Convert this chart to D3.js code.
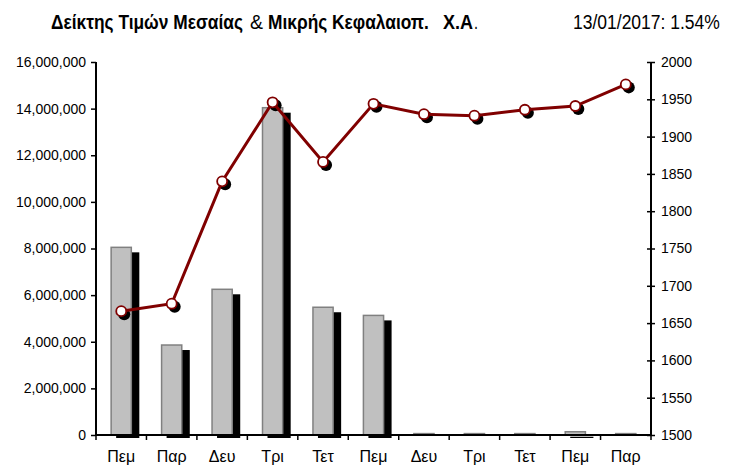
<!DOCTYPE html>
<html>
<head>
<meta charset="utf-8">
<script src="https://cdn.jsdelivr.net/npm/d3@7"></script>
<style>
  body { margin: 0; background: #fff; }
  text { font-family: Arial, "Liberation Sans", sans-serif; }
</style>
</head>
<body>
<svg id="chart" width="738" height="467"></svg>
<script>
const days = ['Πεμ', 'Παρ', 'Δευ', 'Τρι', 'Τετ', 'Πεμ', 'Δευ', 'Τρι', 'Τετ', 'Πεμ', 'Παρ'];
const volume = [8050000, 3860000, 6250000, 14040000, 5480000, 5130000, 60000, 60000, 60000, 140000, 60000];
const index = [1666, 1676, 1840, 1946, 1866, 1944, 1930, 1928, 1936, 1941, 1970];
const volTicks = [0, 2000000, 4000000, 6000000, 8000000, 10000000, 12000000, 14000000, 16000000];
const idxTicks = [1500, 1550, 1600, 1650, 1700, 1750, 1800, 1850, 1900, 1950, 2000];

const margin = { left: 96, right: 87, top: 62, bottom: 32 };
const width = 738, height = 467;

const svg = d3.select('#chart');

const x = d3.scaleBand()
	.domain(d3.range(days.length))
	.range([margin.left, width - margin.right]);

const yVol = d3.scaleLinear().domain([0, 16000000]).range([height - margin.bottom, margin.top]);
const yIdx = d3.scaleLinear().domain([1500, 2000]).range([height - margin.bottom, margin.top]);

const barW = x.bandwidth() * 0.4;
const barH = d => yVol(0) - yVol(d);

// bar shadows (offset down-right, like the excel shadow)
svg.append('g')
	.selectAll('rect')
	.data(volume)
	.join('rect')
	.attr('x', (d, i) => x(i) + (x.bandwidth() - barW) / 2 + 5)
	.attr('y', d => yVol(d) + 5)
	.attr('width', barW + 3)
	.attr('height', d => Math.max(0, barH(d) - 2))
	.attr('fill', '#000');

// bars
svg.append('g')
	.selectAll('rect')
	.data(volume)
	.join('rect')
	.attr('x', (d, i) => x(i) + (x.bandwidth() - barW) / 2)
	.attr('y', d => yVol(d))
	.attr('width', barW)
	.attr('height', barH)
	.attr('fill', '#c0c0c0')
	.attr('stroke', '#808080')
	.attr('stroke-width', 1.5);

// left axis
const leftAxis = svg.append('g')
	.attr('transform', `translate(${margin.left},0)`)
	.call(d3.axisLeft(yVol).tickValues(volTicks).tickSize(5).tickPadding(5).tickFormat(d3.format(',')));

// right axis
const rightAxis = svg.append('g')
	.attr('transform', `translate(${width - margin.right},0)`)
	.call(d3.axisRight(yIdx).tickValues(idxTicks).tickSize(4).tickPadding(6).tickFormat(d3.format('d')));
rightAxis.selectAll('.tick line').attr('x1', -4);

// bottom axis
const bottom = svg.append('g')
	.attr('transform', `translate(0,${height - margin.bottom})`);
bottom.append('line')
	.attr('x1', margin.left).attr('x2', width - margin.right)
	.attr('stroke', '#000').attr('stroke-width', 2);
bottom.selectAll('line.tk')
	.data(d3.range(days.length + 1))
	.join('line')
	.attr('class', 'tk')
	.attr('x1', i => i < days.length ? x(i) : x(days.length - 1) + x.bandwidth())
	.attr('x2', i => i < days.length ? x(i) : x(days.length - 1) + x.bandwidth())
	.attr('y1', 0).attr('y2', 5)
	.attr('stroke', '#000').attr('stroke-width', 1.5);
bottom.selectAll('text')
	.data(days)
	.join('text')
	.attr('x', (d, i) => x(i) + x.bandwidth() / 2)
	.attr('y', 27)
	.attr('text-anchor', 'middle')
	.attr('font-size', 16)
	.attr('fill', '#000')
	.text(d => d);

[leftAxis, rightAxis].forEach(a => {
	a.select('.domain').attr('stroke', '#000').attr('stroke-width', 2);
	a.selectAll('.tick line').attr('stroke', '#000').attr('stroke-width', 1.5);
	a.selectAll('.tick text').attr('font-size', 14).attr('fill', '#000')
		.style('font-family', 'Arial, "Liberation Sans", sans-serif');
});
leftAxis.select('.domain').attr('d', `M-0,${margin.top}V${height - margin.bottom}`);
rightAxis.select('.domain').attr('d', `M0,${margin.top}V${height - margin.bottom}`);

// line
const cx = (d, i) => x(i) + x.bandwidth() / 2;
const line = d3.line().x(cx).y(d => yIdx(d));

svg.append('g')
	.selectAll('circle')
	.data(index)
	.join('circle')
	.attr('cx', (d, i) => cx(d, i) + 3)
	.attr('cy', d => yIdx(d) + 3)
	.attr('r', 6)
	.attr('fill', '#000');

svg.append('path')
	.datum(index)
	.attr('d', line)
	.attr('fill', 'none')
	.attr('stroke', '#800000')
	.attr('stroke-width', 3);

svg.append('g')
	.selectAll('circle')
	.data(index)
	.join('circle')
	.attr('cx', cx)
	.attr('cy', d => yIdx(d))
	.attr('r', 5)
	.attr('fill', '#fff')
	.attr('stroke', '#800000')
	.attr('stroke-width', 1.8);

// titles: no narrow font installed, so each piece is scaled horizontally to its width
const titleParts = [
	{ t: 'Δείκτης Τιμών Μεσαίας', x: 51, w: 192, bold: true },
	{ t: '&', x: 250, w: 13, bold: false },
	{ t: 'Μικρής Κεφαλαιοπ.', x: 268, w: 161, bold: true },
	{ t: 'Χ.Α', x: 443, w: 30, bold: true },
	{ t: '.', x: 474, w: 4, bold: false },
	{ t: '13/01/2017: 1.54%', x: 573, w: 147, bold: false }
];
svg.append('g')
	.selectAll('text')
	.data(titleParts)
	.join('text')
	.attr('font-size', 20)
	.attr('font-weight', d => d.bold ? 'bold' : 'normal')
	.attr('fill', '#000')
	.text(d => d.t)
	.attr('transform', function (d) {
		const natural = this.getComputedTextLength();
		return `translate(${d.x},29) scale(${d.w / natural},1)`;
	});
</script>
</body>
</html>
